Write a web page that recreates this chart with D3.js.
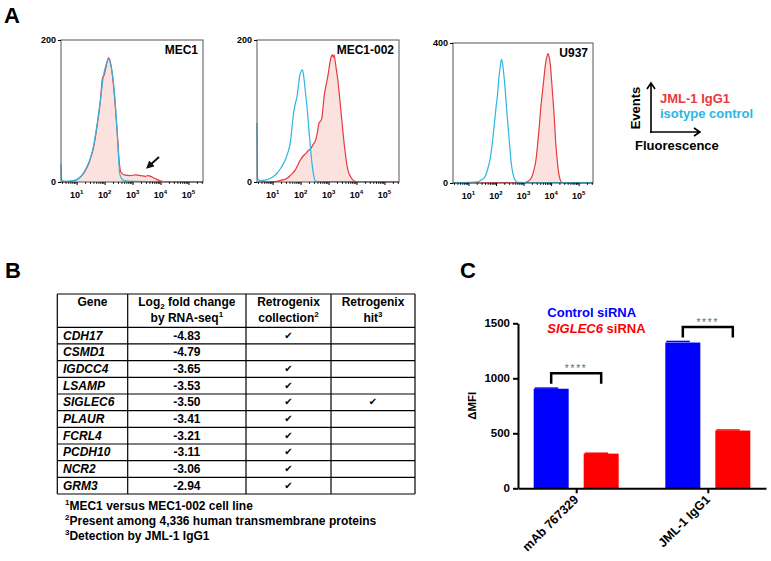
<!DOCTYPE html>
<html>
<head>
<meta charset="utf-8">
<script src="https://cdn.jsdelivr.net/npm/d3@7"></script>
<style>
body { margin: 0; background: #fff; }
svg { display: block; font-family: Arial, "Liberation Sans", sans-serif; }
</style>
</head>
<body>
<svg id="fig" width="771" height="561"></svg>
<script>
// ---- panel A: flow histograms, points are [log10 fluorescence, events] ----
const histNames = ['MEC1', 'MEC1-002', 'U937'];
const histYMax = [200, 200, 400];
const decades = [1, 2, 3, 4, 5];

const mec1Iso = [[0.44,25],[0.46,3],[0.6,1],[0.8,1.5],[0.99,3],[1.1,6],[1.23,12],[1.35,20],[1.47,31],[1.6,50],[1.72,78],[1.85,115],[1.96,150],[2.05,165],[2.14,173],[2.22,165],[2.32,139],[2.4,100],[2.45,69],[2.5,35],[2.54,12],[2.6,5],[2.7,2],[3.0,1],[4.0,0.5],[5.52,0.5]];
const mec1Jml = [[0.44,0],[0.8,1],[0.99,3],[1.1,6],[1.23,11],[1.35,19],[1.47,30],[1.6,48],[1.72,76],[1.85,115],[1.93,148],[1.98,150],[2.04,160],[2.14,175],[2.2,170],[2.28,150],[2.36,118],[2.45,72],[2.52,30],[2.58,14],[2.7,10],[2.9,9],[3.1,10],[3.3,9],[3.45,8],[3.55,9],[3.7,7],[3.85,4],[4.0,1.5],[4.1,0.5],[5.52,0]];
const mec002Iso = [[0.44,83],[0.46,5],[0.55,2],[0.78,3],[1.0,7],[1.15,12],[1.3,20],[1.45,31],[1.55,42],[1.63,55],[1.7,80],[1.75,97],[1.82,112],[1.87,120],[1.92,135],[1.96,148],[2.02,156],[2.06,158],[2.1,152],[2.14,139],[2.19,120],[2.24,101],[2.3,72],[2.36,45],[2.42,22],[2.48,7],[2.54,1],[2.7,0.5],[5.52,0.5]];
const mec002Jml = [[0.44,0],[1.0,0.5],[1.15,1],[1.35,3],[1.51,5],[1.65,10],[1.81,17],[1.9,24],[1.99,31],[2.1,37],[2.18,40],[2.27,44],[2.36,47],[2.45,53],[2.54,59],[2.6,70],[2.66,83],[2.72,86],[2.76,90],[2.84,120],[2.97,148],[3.05,168],[3.09,176],[3.13,179],[3.17,176],[3.2,179],[3.23,172],[3.28,158],[3.33,144],[3.45,97],[3.57,50],[3.69,17],[3.78,8],[3.87,3],[4.0,0.5],[5.52,0]];
const u937Iso = [[0.44,1],[1.0,2],[1.31,3],[1.45,8],[1.6,18],[1.7,40],[1.78,66],[1.86,110],[1.93,161],[2.0,215],[2.06,256],[2.1,295],[2.14,323],[2.2,353],[2.24,340],[2.28,313],[2.33,270],[2.38,218],[2.44,160],[2.5,104],[2.55,60],[2.61,28],[2.7,8],[2.79,2],[3.2,1],[5.52,1]];
const u937Jml = [[0.44,0],[3.0,1],[3.09,2],[3.18,6],[3.27,13],[3.36,32],[3.45,66],[3.51,110],[3.57,161],[3.62,210],[3.68,256],[3.74,300],[3.8,342],[3.85,362],[3.89,370],[3.93,360],[3.98,332],[4.02,290],[4.07,237],[4.12,180],[4.16,123],[4.21,75],[4.26,37],[4.32,12],[4.38,2],[4.5,0.5],[5.52,0]];

const isoCurves = [mec1Iso, mec002Iso, u937Iso];
const jmlCurves = [mec1Jml, mec002Jml, u937Jml];

// ---- panel B: table ----
const genes = ['CDH17', 'CSMD1', 'IGDCC4', 'LSAMP', 'SIGLEC6', 'PLAUR', 'FCRL4', 'PCDH10', 'NCR2', 'GRM3'];
const log2FoldChange = [-4.83, -4.79, -3.65, -3.53, -3.50, -3.41, -3.21, -3.11, -3.06, -2.94];
const inCollection = [true, false, true, true, true, true, true, true, true, true];
const isHit = [false, false, false, false, true, false, false, false, false, false];
const footnotes = [['1', 'MEC1 versus MEC1-002 cell line'], ['2', 'Present among 4,336 human transmembrane proteins'], ['3', 'Detection by JML-1 IgG1']];

// ---- panel C: bars ----
const antibodies = ['mAb 767329', 'JML-1 IgG1'];
const controlMFI = [905, 1325];
const controlErr = [6, 10];
const siglecMFI = [315, 525];
const siglecErr = [4, 5];
const mfiTicks = [0, 500, 1000, 1500];

const red = '#e63a3c', cyan = '#2bb6e3', pink = '#fbe2df';
const barBlue = '#0000ff', barRed = '#ff0000';
const svg = d3.select('#fig');
const minusFmt = d3.formatLocale({decimal: '.', thousands: ',', grouping: [3], currency: ['', ''], minus: '-'}).format('.2f');

// panel letters
[['A', 4, 23], ['B', 5, 278], ['C', 460, 278]].forEach(([t, x, y]) => {
  svg.append('text').attr('x', x).attr('y', y).attr('font-size', 22).attr('font-weight', 'bold').text(t);
});

// ===== Panel A =====
const frames = [
  {left: 61, top: 40, width: 142, height: 142},
  {left: 257, top: 40, width: 142, height: 142},
  {left: 453, top: 43, width: 140, height: 140}
];
const fluorDomain = [10 ** 0.44, 10 ** 5.52];
const minorTicks = [];
for (let k = 0; k <= 5; k++) for (let m = 2; m <= 9; m++) {
  const v = m * 10 ** k;
  if (v > fluorDomain[0] && v < fluorDomain[1]) minorTicks.push(v);
}

frames.forEach((f, i) => {
  const g = svg.append('g');
  const x = d3.scaleLog().domain(fluorDomain).range([f.left, f.left + f.width]);
  const y = d3.scaleLinear().domain([0, histYMax[i]]).range([f.top + f.height, f.top]);
  const area = d3.area().x(d => x(10 ** d[0])).y0(y(0)).y1(d => y(d[1])).curve(d3.curveMonotoneX);
  const line = d3.line().x(d => x(10 ** d[0])).y(d => y(d[1])).curve(d3.curveMonotoneX);

  g.append('path').datum(jmlCurves[i]).attr('d', area).attr('fill', pink);
  g.append('path').datum(jmlCurves[i]).attr('d', line).attr('fill', 'none').attr('stroke', red).attr('stroke-width', 1.2);
  g.append('path').datum(isoCurves[i]).attr('d', line).attr('fill', 'none').attr('stroke', cyan).attr('stroke-width', 1.2);

  g.append('rect').attr('x', f.left).attr('y', f.top).attr('width', f.width).attr('height', f.height)
    .attr('fill', 'none').attr('stroke', '#555').attr('stroke-width', 1);

  // x ticks
  const base = f.top + f.height;
  g.append('g').attr('transform', `translate(0,${base})`)
    .call(d3.axisBottom(x).tickValues(decades.map(d => 10 ** d)).tickSize(3).tickFormat(''))
    .call(a => a.select('.domain').remove());
  g.append('g').attr('transform', `translate(0,${base})`)
    .call(d3.axisBottom(x).tickValues(minorTicks).tickSize(1.8).tickFormat(''))
    .call(a => a.select('.domain').remove());
  decades.forEach(d => {
    const t = g.append('text').attr('x', x(10 ** d)).attr('y', base + 15.5).attr('text-anchor', 'middle')
      .attr('font-size', 9).attr('font-weight', 'bold');
    t.append('tspan').text('10');
    t.append('tspan').attr('dy', -4).attr('font-size', 6).text(d);
  });

  // y ticks
  g.append('g').attr('transform', `translate(${f.left},0)`)
    .call(d3.axisLeft(y).tickValues([0, histYMax[i]]).tickSize(3).tickSizeOuter(0).tickPadding(2))
    .call(a => a.select('.domain').remove())
    .call(a => a.selectAll('text').attr('font-size', 9).attr('font-weight', 'bold').attr('font-family', 'Arial, "Liberation Sans", sans-serif'));

  g.append('text').attr('x', f.left + f.width - 5).attr('y', f.top + 14).attr('text-anchor', 'end')
    .attr('font-size', 12).attr('font-weight', 'bold').text(histNames[i]);
});

// arrow in MEC1
svg.append('defs').append('marker').attr('id', 'head').attr('viewBox', '0 0 10 10').attr('refX', 5).attr('refY', 5)
  .attr('markerWidth', 4).attr('markerHeight', 4).attr('orient', 'auto')
  .append('path').attr('d', 'M0,0L10,5L0,10z').attr('fill', '#111');
svg.append('line').attr('x1', 159).attr('y1', 157).attr('x2', 149).attr('y2', 166)
  .attr('stroke', '#111').attr('stroke-width', 2).attr('marker-end', 'url(#head)');

// legend for A
const lg = svg.append('g');
lg.append('path').attr('d', 'M651,133V84M647,89L651,83L655,89').attr('fill', 'none').attr('stroke', '#000').attr('stroke-width', 1.6);
lg.append('path').attr('d', 'M650,132H700M694,128L700,132L694,136').attr('fill', 'none').attr('stroke', '#000').attr('stroke-width', 1.6);
lg.append('text').attr('x', 660).attr('y', 103).attr('font-size', 13).attr('font-weight', 'bold').attr('fill', red).text('JML-1 IgG1');
lg.append('text').attr('x', 660).attr('y', 117.5).attr('font-size', 13).attr('font-weight', 'bold').attr('fill', cyan).text('isotype control');
lg.append('text').attr('x', 635).attr('y', 149.5).attr('font-size', 13).attr('font-weight', 'bold').text('Fluorescence');
lg.append('text').attr('transform', 'translate(640,108) rotate(-90)').attr('text-anchor', 'middle')
  .attr('font-size', 13).attr('font-weight', 'bold').text('Events');

// ===== Panel B =====
const colEdges = [57.3, 127.7, 246, 331, 415];
const tableTop = 294, headerBottom = 327.3, tableBottom = 494;
const rows = d3.scaleBand().domain(genes).range([headerBottom, tableBottom]);
const colMid = i => (colEdges[i] + colEdges[i + 1]) / 2;
const tb = svg.append('g').attr('font-size', 12).attr('font-weight', 'bold');

[tableTop, ...genes.map(g => rows(g)), tableBottom].forEach(yy => {
  tb.append('line').attr('x1', colEdges[0]).attr('x2', colEdges[4]).attr('y1', yy).attr('y2', yy)
    .attr('stroke', '#000').attr('stroke-width', 1.2);
});
colEdges.forEach(xx => {
  tb.append('line').attr('x1', xx).attr('x2', xx).attr('y1', tableTop).attr('y2', tableBottom)
    .attr('stroke', '#000').attr('stroke-width', 1.2);
});

// headers
tb.append('text').attr('x', colMid(0)).attr('y', 306).attr('text-anchor', 'middle').text('Gene');
{
  const t = tb.append('text').attr('x', colMid(1)).attr('y', 306).attr('text-anchor', 'middle');
  t.append('tspan').text('Log');
  t.append('tspan').attr('dy', 3).attr('font-size', 8).text('2');
  t.append('tspan').attr('dy', -3).text(' fold change');
  const t2 = tb.append('text').attr('x', colMid(1)).attr('y', 321.5).attr('text-anchor', 'middle');
  t2.append('tspan').text('by RNA-seq');
  t2.append('tspan').attr('dy', -5).attr('font-size', 8).text('1');
}
tb.append('text').attr('x', colMid(2)).attr('y', 306).attr('text-anchor', 'middle').text('Retrogenix');
{
  const t = tb.append('text').attr('x', colMid(2)).attr('y', 321.5).attr('text-anchor', 'middle');
  t.append('tspan').text('collection');
  t.append('tspan').attr('dy', -5).attr('font-size', 8).text('2');
}
tb.append('text').attr('x', colMid(3)).attr('y', 306).attr('text-anchor', 'middle').text('Retrogenix');
{
  const t = tb.append('text').attr('x', colMid(3)).attr('y', 321.5).attr('text-anchor', 'middle');
  t.append('tspan').text('hit');
  t.append('tspan').attr('dy', -5).attr('font-size', 8).text('3');
}

const check = (col, yy) => tb.append('text').attr('x', colMid(col)).attr('y', yy - 1).attr('text-anchor', 'middle')
  .attr('font-size', 10).attr('font-weight', 'normal').attr('font-family', 'DejaVu Sans').text('\u2714');
genes.forEach((g, i) => {
  const yy = rows(g) + 12.3;
  tb.append('text').attr('x', 63).attr('y', yy).attr('font-style', 'italic').text(g);
  tb.append('text').attr('x', colMid(1)).attr('y', yy).attr('text-anchor', 'middle').text(minusFmt(log2FoldChange[i]));
  if (inCollection[i]) check(2, yy);
  if (isHit[i]) check(3, yy);
});

footnotes.forEach(([sup, s], i) => {
  const t = tb.append('text').attr('x', 65).attr('y', 510 + i * 15);
  t.append('tspan').attr('dy', -5).attr('font-size', 8).text(sup);
  t.append('tspan').attr('dy', 5).text(s);
});

// ===== Panel C =====
const cg = svg.append('g');
const x0 = d3.scalePoint().domain(antibodies).range([518, 766]).padding(0.442);
const x1 = d3.scaleBand().domain(['control', 'siglec']).range([-42.5, 42.5]).paddingInner(0.3);
const yC = d3.scaleLinear().domain([0, 1500]).range([488.3, 323.3]);

const series = [
  {key: 'control', vals: controlMFI, errs: controlErr, color: barBlue},
  {key: 'siglec', vals: siglecMFI, errs: siglecErr, color: barRed}
];
series.forEach(s => {
  antibodies.forEach((ab, i) => {
    const bx = x0(ab) + x1(s.key);
    cg.append('rect').attr('x', bx).attr('y', yC(s.vals[i])).attr('width', x1.bandwidth())
      .attr('height', yC(0) - yC(s.vals[i])).attr('fill', s.color);
    cg.append('line').attr('x1', bx + 1).attr('x2', bx + x1.bandwidth() * 0.7).attr('y1', yC(s.vals[i] + s.errs[i]))
      .attr('y2', yC(s.vals[i] + s.errs[i])).attr('stroke', s.color).attr('stroke-width', 1.5);
  });
});

cg.append('g').attr('transform', 'translate(518,0)')
  .call(d3.axisLeft(yC).tickValues(mfiTicks).tickFormat(d3.format('d')).tickSize(5).tickSizeOuter(0).tickPadding(3))
  .call(a => a.selectAll('path,line').attr('stroke-width', 2))
  .call(a => a.selectAll('text').attr('font-size', 11.5).attr('font-weight', 'bold').attr('font-family', 'Arial, "Liberation Sans", sans-serif'));
cg.append('g').attr('transform', `translate(0,${yC(0)})`)
  .call(d3.axisBottom(x0).tickSize(5).tickSizeOuter(0).tickFormat(''))
  .call(a => a.selectAll('path,line').attr('stroke-width', 2));
antibodies.forEach(ab => {
  cg.append('text').attr('transform', `translate(${x0(ab) + 3},${yC(0) + 12}) rotate(-45)`)
    .attr('text-anchor', 'end').attr('font-size', 12.5).attr('font-weight', 'bold').text(ab);
});
cg.append('text').attr('transform', `translate(476,${(yC(0) + yC(1500)) / 2}) rotate(-90)`)
  .attr('text-anchor', 'middle').attr('font-size', 11.5).attr('font-weight', 'bold').text('\u0394MFI');

// significance brackets
antibodies.forEach((ab, i) => {
  const xa = x0(ab) + x1('control') + x1.bandwidth() / 2;
  const xb = x0(ab) + x1('siglec') + x1.bandwidth() / 2;
  const top = yC(controlMFI[i]) - 15.5, leg = yC(controlMFI[i]) - 5;
  cg.append('path').attr('d', `M${xa},${leg}V${top}H${xb}V${leg}`).attr('fill', 'none')
    .attr('stroke', '#000').attr('stroke-width', 2.5);
  cg.append('text').attr('x', (xa + xb) / 2).attr('y', top - 1).attr('text-anchor', 'middle')
    .attr('font-size', 10).attr('letter-spacing', 1.8).attr('fill', '#666').text('****');
});

// legend C
cg.append('text').attr('x', 547.3).attr('y', 317.3).attr('font-size', 13).attr('font-weight', 'bold').attr('fill', barBlue).text('Control siRNA');
{
  const t = cg.append('text').attr('x', 547.3).attr('y', 332.7).attr('font-size', 13).attr('font-weight', 'bold').attr('fill', barRed);
  t.append('tspan').attr('font-style', 'italic').text('SIGLEC6');
  t.append('tspan').text(' siRNA');
}
</script>
</body>
</html>
